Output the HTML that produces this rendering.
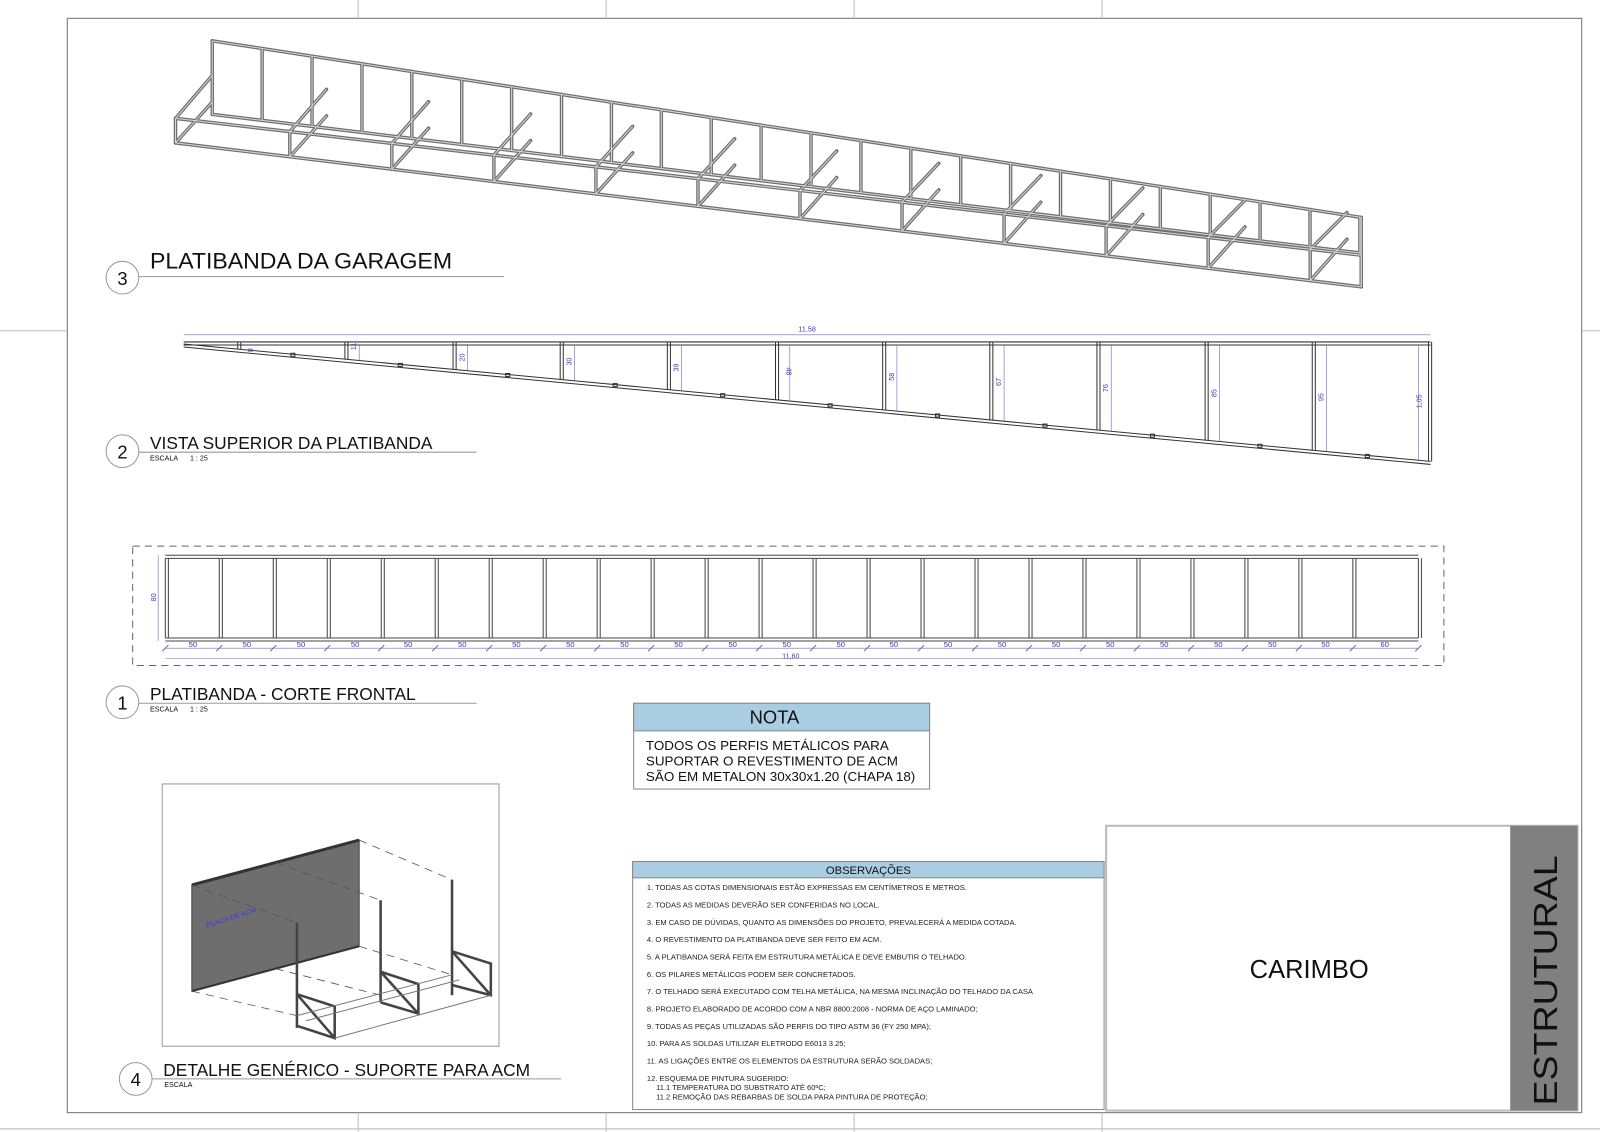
<!DOCTYPE html>
<html><head><meta charset="utf-8"><style>
html,body{margin:0;padding:0;background:#fff}
svg{display:block}
text{font-family:"Liberation Sans",Arial,sans-serif}
</style></head><body>
<svg id="s" width="1600" height="1132" viewBox="0 0 1568 1109" preserveAspectRatio="none" xmlns="http://www.w3.org/2000/svg">
<rect width="1568" height="1109" fill="#fff"/>
<!-- page frame -->
<rect x="66" y="18" width="1484" height="1072" fill="none" stroke="#888" stroke-width="1.2"/>
<g stroke="#bbb" stroke-width="1">
<line x1="351" y1="0" x2="351" y2="18"/><line x1="594" y1="0" x2="594" y2="18"/><line x1="837" y1="0" x2="837" y2="18"/><line x1="1080" y1="0" x2="1080" y2="18"/>
<line x1="351" y1="1090" x2="351" y2="1109"/><line x1="594" y1="1090" x2="594" y2="1109"/><line x1="837" y1="1090" x2="837" y2="1109"/><line x1="1080" y1="1090" x2="1080" y2="1109"/>
<line x1="0" y1="324" x2="66" y2="324"/><line x1="1550" y1="324" x2="1568" y2="324"/>
<line x1="0" y1="1106" x2="1568" y2="1106"/>
</g>
<g id="frame3d" fill="none" stroke="#6f6f6f" stroke-width="3.4" stroke-linecap="round"></g>
<g id="frame3dhi" fill="none" stroke="#d8d8d8" stroke-width="1"></g>

<!-- titles -->
<g fill="#111">
<circle cx="120" cy="272" r="16" fill="none" stroke="#999"/>
<text x="120" y="279" font-size="18" text-anchor="middle">3</text>
<text x="147" y="263" font-size="22" textLength="296" lengthAdjust="spacingAndGlyphs">PLATIBANDA DA GARAGEM</text>
<line x1="136" y1="271" x2="494" y2="271" stroke="#999"/>

<circle cx="120" cy="442" r="16" fill="none" stroke="#999"/>
<text x="120" y="449" font-size="18" text-anchor="middle">2</text>
<text x="147" y="440" font-size="17">VISTA SUPERIOR DA PLATIBANDA</text>
<line x1="136" y1="443" x2="467" y2="443" stroke="#999"/>
<text x="147" y="451" font-size="7">ESCALA&#160;&#160;&#160;&#160;&#160;&#160;1 : 25</text>

<circle cx="120" cy="688" r="16" fill="none" stroke="#999"/>
<text x="120" y="695" font-size="18" text-anchor="middle">1</text>
<text x="147" y="686" font-size="17">PLATIBANDA - CORTE FRONTAL</text>
<line x1="136" y1="689" x2="467" y2="689" stroke="#999"/>
<text x="147" y="697" font-size="7">ESCALA&#160;&#160;&#160;&#160;&#160;&#160;1 : 25</text>

<circle cx="133" cy="1057" r="16" fill="none" stroke="#999"/>
<text x="133" y="1064" font-size="18" text-anchor="middle">4</text>
<text x="160" y="1054" font-size="17">DETALHE GENÉRICO - SUPORTE PARA ACM</text>
<line x1="149" y1="1057" x2="550" y2="1057" stroke="#999"/>
<text x="161" y="1065" font-size="7">ESCALA</text>
</g>

<!-- view 2 -->
<g id="v2" fill="none" stroke="#333" stroke-width="1"></g>
<g fill="#3a3ab0" font-size="7">
<text x="791" y="325" text-anchor="middle">11,58</text>
</g>

<!-- view 1 -->
<rect x="130" y="535" width="1285" height="117" fill="none" stroke="#666" stroke-dasharray="7,5"/>
<g id="v1" fill="none" stroke="#444" stroke-width="1"></g>
<g fill="#3a3ab0" font-size="7">
<text transform="translate(153,589) rotate(-90)">80</text>
<text x="775" y="645" text-anchor="middle">11,60</text>
</g>

<!-- NOTA -->
<rect x="621" y="689" width="290" height="84" fill="#fff" stroke="#888"/>
<rect x="621" y="689" width="290" height="27" fill="#a9cde2" stroke="#888"/>
<text x="759" y="709" font-size="18" text-anchor="middle" fill="#111">NOTA</text>
<g font-size="12.5" fill="#111">
<text x="633" y="735" textLength="238" lengthAdjust="spacingAndGlyphs">TODOS OS PERFIS METÁLICOS PARA</text>
<text x="633" y="750" textLength="247" lengthAdjust="spacingAndGlyphs">SUPORTAR O REVESTIMENTO DE ACM</text>
<text x="633" y="765" textLength="264" lengthAdjust="spacingAndGlyphs">SÃO EM METALON 30x30x1.20 (CHAPA 18)</text>
</g>

<!-- OBSERVACOES -->
<rect x="620" y="844" width="462" height="243" fill="#fff" stroke="#888"/>
<rect x="620" y="844" width="462" height="16" fill="#a9cde2" stroke="#888"/>
<text x="851" y="856" font-size="11" text-anchor="middle" fill="#111">OBSERVAÇÕES</text>
<g font-size="7.4" fill="#222">
<text x="634" y="872">1. TODAS AS COTAS DIMENSIONAIS ESTÃO EXPRESSAS EM CENTÍMETROS E METROS.</text>
<text x="634" y="889">2. TODAS AS MEDIDAS DEVERÃO SER CONFERIDAS NO LOCAL.</text>
<text x="634" y="906">3. EM CASO DE DÚVIDAS, QUANTO AS DIMENSÕES DO PROJETO, PREVALECERÁ A MEDIDA COTADA.</text>
<text x="634" y="923">4. O REVESTIMENTO DA PLATIBANDA DEVE SER FEITO EM ACM.</text>
<text x="634" y="940">5. A PLATIBANDA SERÁ FEITA EM ESTRUTURA METÁLICA E DEVE EMBUTIR O TELHADO.</text>
<text x="634" y="957">6. OS PILARES METÁLICOS PODEM SER CONCRETADOS.</text>
<text x="634" y="974">7. O TELHADO SERÁ EXECUTADO COM TELHA METÁLICA, NA MESMA INCLINAÇÃO DO TELHADO DA CASA</text>
<text x="634" y="991">8. PROJETO ELABORADO DE ACORDO COM A NBR 8800:2008 - NORMA DE AÇO LAMINADO;</text>
<text x="634" y="1008">9. TODAS AS PEÇAS UTILIZADAS SÃO PERFIS DO TIPO ASTM 36 (FY 250 MPA);</text>
<text x="634" y="1025">10. PARA AS SOLDAS UTILIZAR ELETRODO E6013 3.25;</text>
<text x="634" y="1042">11. AS LIGAÇÕES ENTRE OS ELEMENTOS DA ESTRUTURA SERÃO SOLDADAS;</text>
<text x="634" y="1059">12. ESQUEMA DE PINTURA SUGERIDO:</text>
<text x="643" y="1068">11.1 TEMPERATURA DO SUBSTRATO ATÉ 60ºC;</text>
<text x="643" y="1077">11.2 REMOÇÃO DAS REBARBAS DE SOLDA PARA PINTURA DE PROTEÇÃO;</text>
</g>

<!-- CARIMBO -->
<rect x="1084" y="809" width="462" height="279" fill="#fff" stroke="#bbb" stroke-width="2"/>
<rect x="1480" y="809" width="66" height="279" fill="#808080"/>
<text x="1283" y="958" font-size="25" text-anchor="middle" fill="#111">CARIMBO</text>
<text transform="translate(1526,1083) rotate(-90)" font-size="33" fill="#111" textLength="245" lengthAdjust="spacingAndGlyphs">ESTRUTURAL</text>

<!-- detail 4 -->
<rect x="159" y="768" width="330" height="257" fill="#fff" stroke="#999"/>
<polygon points="188,867 352,823 352,927 188,971" fill="#6e6e6e" stroke="#444"/>
<line x1="188" y1="867" x2="352" y2="823" stroke="#333" stroke-width="3"/>
<line x1="188" y1="971" x2="352" y2="927" stroke="#333" stroke-width="2"/>
<text transform="translate(203,909) rotate(-18)" font-size="7" fill="#3a3ae0">PLACA DE ACM</text>
<g stroke="#555" stroke-dasharray="8,6" fill="none" stroke-width="0.8">
<line x1="352" y1="823" x2="443" y2="862"/><line x1="270" y1="845" x2="373" y2="882"/><line x1="188" y1="867" x2="291" y2="904"/>
<line x1="352" y1="927" x2="443" y2="955"/><line x1="270" y1="949" x2="373" y2="975"/><line x1="188" y1="971" x2="291" y2="995"/>
</g>
<g stroke="#444" stroke-width="2.5" fill="none">
<line x1="291" y1="904" x2="291" y2="1007"/><line x1="373" y1="882" x2="373" y2="982"/><line x1="443" y1="862" x2="443" y2="975"/>
<polyline points="291,974 328,986 328,1017 291,1005"/><line x1="291" y1="974" x2="328" y2="1017"/>
<polyline points="373,952 410,964 410,993 373,982"/><line x1="373" y1="952" x2="410" y2="993"/>
<polyline points="443,932 481,944 481,975 443,965"/><line x1="443" y1="932" x2="481" y2="975"/>
</g>
<g stroke="#777" stroke-width="1" fill="none">
<line x1="291" y1="995" x2="443" y2="955"/><line x1="328" y1="1017" x2="481" y2="975"/><line x1="300" y1="1000" x2="450" y2="960"/>
</g>

<script>
var NS="http://www.w3.org/2000/svg";
function L(g,x1,y1,x2,y2,a){var e=document.createElementNS(NS,"line");e.setAttribute("x1",x1);e.setAttribute("y1",y1);e.setAttribute("x2",x2);e.setAttribute("y2",y2);if(a)for(var k in a)e.setAttribute(k,a[k]);document.getElementById(g).appendChild(e);}
function lerp(x,p,q){return p[1]+(q[1]-p[1])*(x-p[0])/(q[0]-p[0]);}
var bt=[[208,40],[1334,213]],bb=[[208,112],[1334,248]],ft=[[172,116],[1334,250]],fb=[[172,140],[1334,281]];
function seg(g,p){L(g,p[0][0],p[0][1],p[1][0],p[1][1]);}
["frame3d","frame3dhi"].forEach(function(g){
seg(g,bt);seg(g,bb);seg(g,ft);seg(g,fb);
for(var i=0;i<24;i++){var x=208+i*48.9;L(g,x,lerp(x,bt[0],bt[1]),x,lerp(x,bb[0],bb[1]));}
var fx=[172,284,384,484,584,684,784,884,984,1084,1184,1284,1334];
fx.forEach(function(x){L(g,x,lerp(x,ft[0],ft[1]),x,lerp(x,fb[0],fb[1]));
 if(x<1300){var bx=x+36;L(g,x,lerp(x,ft[0],ft[1]),bx,lerp(bx,bb[0],bb[1])-38);L(g,x,lerp(x,fb[0],fb[1]),bx,lerp(bx,bb[0],bb[1])-12);}});
L(g,1334,213,1334,281);
});
var d1=[180,337],d2=[1402,452];
L("v2",180,335,1402,335);L("v2",180,338,1402,338);
L("v2",180,337,1402,452);L("v2",180,340,1402,455);
L("v2",180,328,1402,328,{stroke:"#6a6ac0","stroke-width":0.6});
var px=[233,338,444,549,654,760,865,970,1075,1181,1286,1400];
px.forEach(function(x,i){var y=lerp(x,d1,d2);L("v2",x,335,x,y);L("v2",x+3,335,x+3,y+0.3);
 if(i>0){var dx=x+14;if(i==11)dx=x-10;L("v2",dx,338,dx,lerp(dx,d1,d2),{stroke:"#6a6ac0","stroke-width":0.6});}});
for(var x=287;x<1400;x+=105.3){var y=lerp(x,d1,d2);var r=document.createElementNS(NS,"rect");r.setAttribute("x",x-2);r.setAttribute("y",y-1);r.setAttribute("width",4);r.setAttribute("height",3);document.getElementById("v2").appendChild(r);}
L("v1",162,544,1390,544);L("v1",162,547,1390,547);L("v1",162,625,1390,625);L("v1",162,628,1390,628);
var xs=[];for(var i=0;i<23;i++)xs.push(162+i*52.9);xs.push(1390);
xs.forEach(function(x){L("v1",x,547,x,625);L("v1",x+3,547,x+3,625);});
L("v1",155,544,155,628,{stroke:"#6a6ac0","stroke-width":0.6});
L("v1",162,635,1390,635,{stroke:"#6a6ac0","stroke-width":0.6});
L("v1",162,645,1390,645,{stroke:"#6a6ac0","stroke-width":0.6});
xs.forEach(function(x){L("v1",x-3,638,x+3,632,{stroke:"#6a6ac0"});});
</script>
<g fill="#3a3ab0" font-size="7">
<text transform="translate(243,341) rotate(90)">8</text>
<text transform="translate(349,343) rotate(-90)">11</text>
<text transform="translate(455,354) rotate(-90)">20</text>
<text transform="translate(560,358) rotate(-90)">30</text>
<text transform="translate(665,364) rotate(-90)">39</text>
<text transform="translate(771,360) rotate(90)">48</text>
<text transform="translate(876,373) rotate(-90)">58</text>
<text transform="translate(981,378) rotate(-90)">67</text>
<text transform="translate(1086,384) rotate(-90)">76</text>
<text transform="translate(1192,389) rotate(-90)">85</text>
<text transform="translate(1297,393) rotate(-90)">95</text>
<text transform="translate(1393,400) rotate(-90)">1,05</text>
</g>
<g fill="#3a3ab0" font-size="7.5" text-anchor="middle">
<text x="189" y="634">50</text><text x="242" y="634">50</text><text x="295" y="634">50</text><text x="348" y="634">50</text><text x="400" y="634">50</text><text x="453" y="634">50</text><text x="506" y="634">50</text><text x="559" y="634">50</text><text x="612" y="634">50</text><text x="665" y="634">50</text><text x="718" y="634">50</text><text x="771" y="634">50</text><text x="824" y="634">50</text><text x="876" y="634">50</text><text x="929" y="634">50</text><text x="982" y="634">50</text><text x="1035" y="634">50</text><text x="1088" y="634">50</text><text x="1141" y="634">50</text><text x="1194" y="634">50</text><text x="1247" y="634">50</text><text x="1299" y="634">50</text><text x="1357" y="634">60</text>
</g>
</svg>
</body></html>
